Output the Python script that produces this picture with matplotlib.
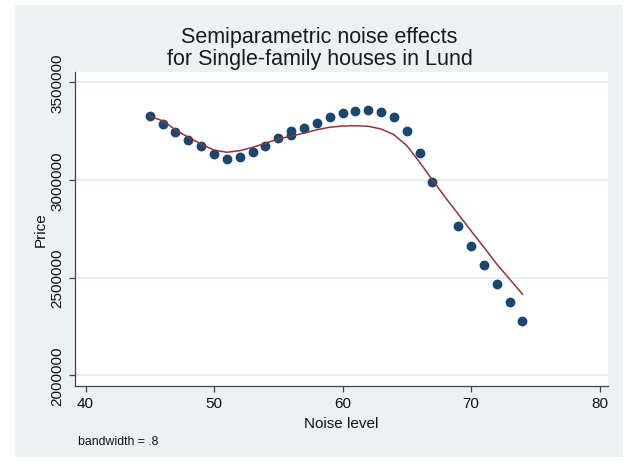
import numpy as np
import matplotlib.pyplot as plt
from matplotlib.patches import Rectangle

plt.rcParams['font.family'] = ['Liberation Sans', 'DejaVu Sans']

# observed points (noise level, price)
noise = [45, 46, 47, 48, 49, 50, 51, 52, 53, 54, 55, 56, 56, 57, 58, 59, 60,
         61, 62, 63, 64, 65, 66, 67, 69, 70, 71, 72, 73, 74]
price = [3326000, 3287000, 3247000, 3206000, 3172000, 3131000, 3107000,
         3116000, 3142000, 3175000, 3215000, 3250000, 3228000, 3265000,
         3293000, 3321000, 3343000, 3355000, 3358000, 3346000, 3322000,
         3249000, 3138000, 2991000, 2763000, 2661000, 2565000, 2469000,
         2374000, 2278000]

# lowess fit
fit_x = [45, 46, 47, 48, 49, 50, 51, 52, 53, 54, 55, 56, 57, 58, 59, 60,
         61, 62, 63, 64, 65, 66, 67, 68, 69, 70, 71, 72, 73, 74]
fit_y = [3326000, 3303000, 3257000, 3218000, 3184000, 3153000, 3142000,
         3150000, 3167000, 3188000, 3210000, 3225000, 3240000, 3257000,
         3270000, 3276000, 3278000, 3275000, 3261000, 3232000, 3176000,
         3091000, 3000000, 2911000, 2826000, 2740000, 2656000, 2570000,
         2493000, 2416000]

xticks = [40, 50, 60, 70, 80]
yticks = [2000000, 2500000, 3000000, 3500000]

bg = "#EAF2F3"
navy = "#1A476F"
maroon = "#90353B"

fig = plt.figure(figsize=(6.29, 4.64), dpi=100)
fig.patch.set_facecolor("white")
fig.patches.append(Rectangle((15/629, 1-458/464), 608/629, 452/464,
                             transform=fig.transFigure, facecolor=bg,
                             edgecolor="none", zorder=-10))

ax = fig.add_axes([75/629, 1-387/464, 533/629, 314/464])
ax.set_facecolor("white")
ax.scatter(noise, price, s=50, color=navy, zorder=3, linewidths=0)
ax.plot(fit_x, fit_y, color=maroon, lw=1.1, zorder=4)

ax.set_xlim(39.18, 80.66)
ax.set_ylim(1945700, 3552700)
ax.set_xticks(xticks)
ax.set_yticks(yticks)
ax.set_yticklabels([str(v) for v in yticks], rotation=90, va="center")
ax.grid(axis="y", color="#E3EDEF", lw=1.2, zorder=0)
ax.set_axisbelow(True)

for s in ["top", "right"]:
    ax.spines[s].set_visible(False)
for s in ["left", "bottom"]:
    ax.spines[s].set_color("#444444")
    ax.spines[s].set_linewidth(0.9)
ax.tick_params(colors="#444444", labelcolor="#111111", labelsize=11,
               length=4.5, width=0.9, pad=3)

ax.set_xlabel("Noise level", fontsize=11, color="#111111")
ax.xaxis.set_label_coords(0.5, -0.097)
ax.set_ylabel("Price", fontsize=11, color="#111111")
ax.yaxis.set_label_coords(-0.051, 0.5)

fig.text(0.508, 1-43/464, "Semiparametric noise effects", ha="center",
         va="baseline", fontsize=15.5, color="#1a1a1a")
fig.text(0.508, 1-65/464, "for Single-family houses in Lund", ha="center",
         va="baseline", fontsize=15.5, color="#1a1a1a")
fig.text(78/629, 1-442/464, "bandwidth = .8", ha="left", va="center",
         fontsize=8.8, color="#111111")

plt.savefig("out.png", dpi=100)
